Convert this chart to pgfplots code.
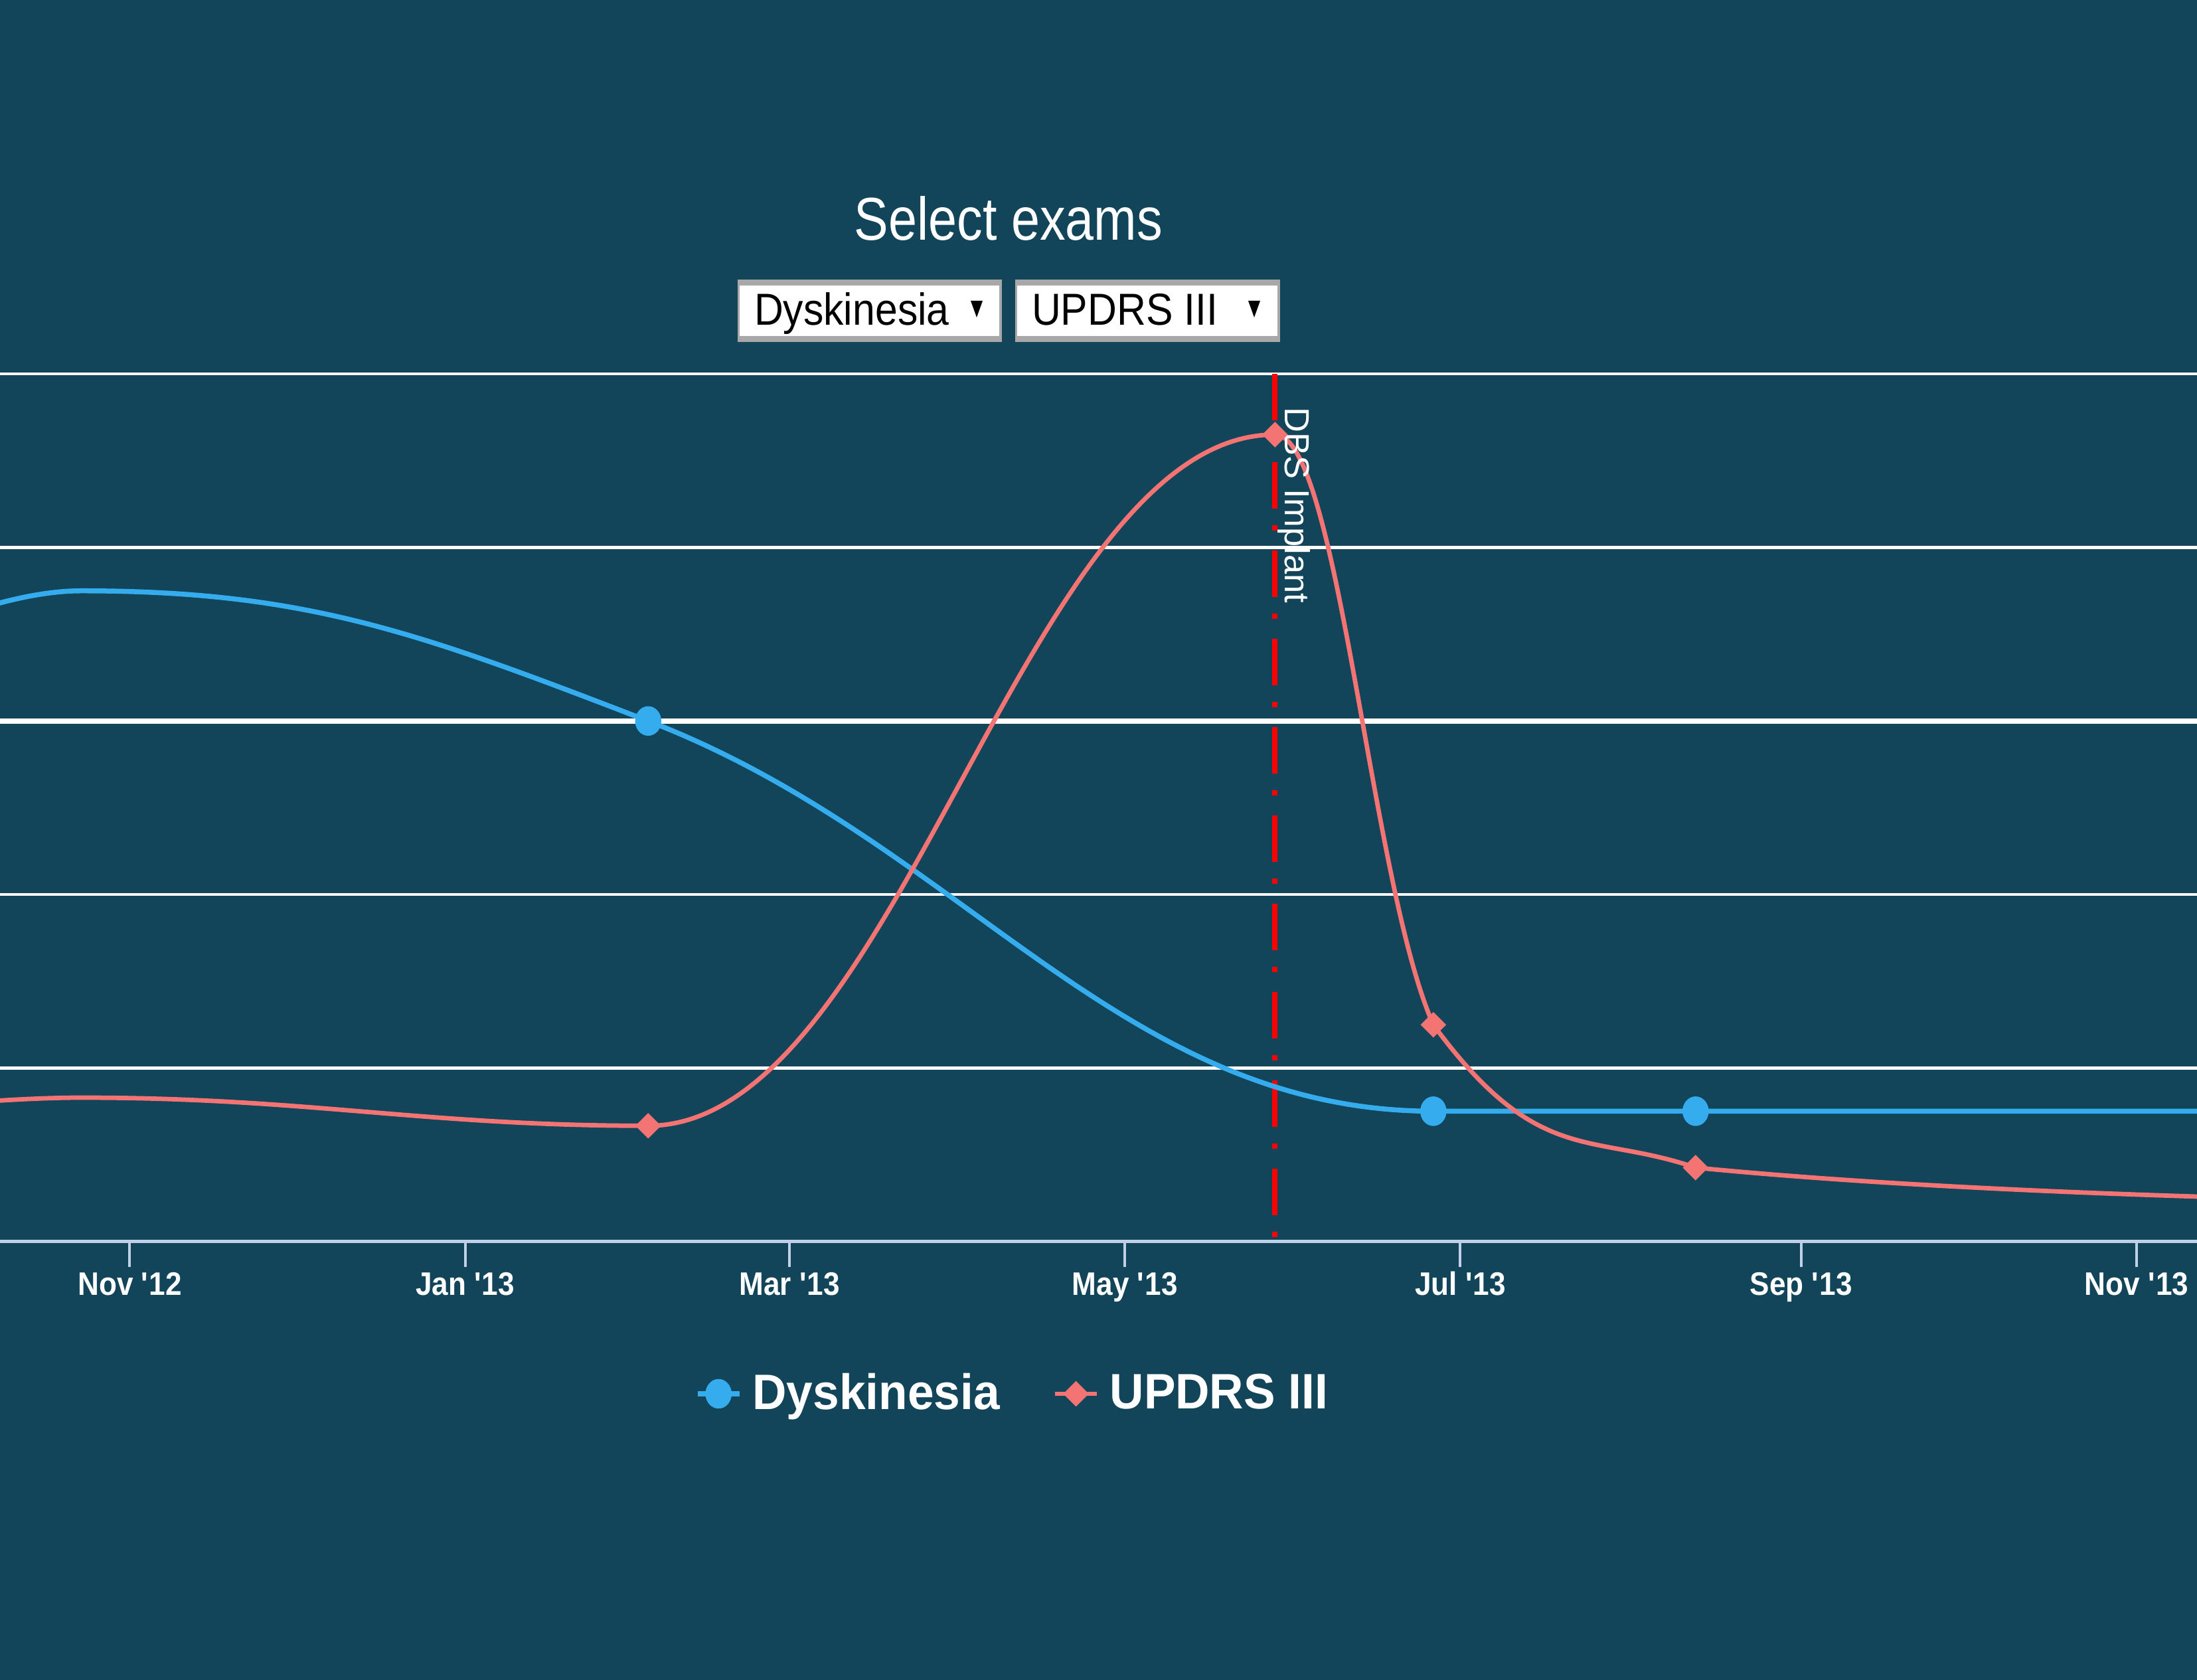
\documentclass[border=0pt]{standalone}
\usepackage{fontspec}
\setmainfont{Liberation Sans}
\newfontfamily\titlefont{Liberation Sans}[FakeStretch=0.85]
\newfontfamily\boxfont{Liberation Sans}[FakeStretch=0.9]
\newfontfamily\tickfont{Liberation Sans Bold}[FakeStretch=0.9]
\newfontfamily\legfont{Liberation Sans Bold}[FakeStretch=0.95]
\usepackage{pgfplots}
\pgfplotsset{compat=1.18}

\definecolor{bg}{RGB}{18,69,90}
\definecolor{dysk}{RGB}{53,172,238}
\definecolor{updrs}{RGB}{244,115,115}
\definecolor{axisc}{RGB}{192,208,230}
\definecolor{boxgray}{RGB}{168,168,168}

% Highcharts-like spline plot handler
\makeatletter
\def\pgfplothandlerhcspline{%
  \def\pgf@plotstreamstart{%
    \global\let\pgf@plotstreampoint=\hc@point@first
    \global\let\pgf@plotstreamspecial=\@gobble
    \global\let\pgf@plotstreamend=\hc@finish
  }%
}
\def\hc@point@first#1{%
  \pgf@process{#1}%
  \xdef\hc@px{\pgf@sys@tonumber\pgf@x}%
  \xdef\hc@py{\pgf@sys@tonumber\pgf@y}%
  \pgf@plot@first@action{\pgfqpoint{\hc@px pt}{\hc@py pt}}%
  \gdef\hc@havelast{0}%
  \global\let\pgf@plotstreampoint=\hc@point@next
}
\def\hc@point@next#1{%
  \pgf@process{#1}%
  \xdef\hc@nx{\pgf@sys@tonumber\pgf@x}%
  \xdef\hc@ny{\pgf@sys@tonumber\pgf@y}%
  \ifnum\hc@havelast=1
    \hc@compute
    \pgfpathcurveto{\pgfqpoint{\hc@lrx pt}{\hc@lry pt}}{\pgfqpoint{\hc@plx pt}{\hc@ply pt}}{\pgfqpoint{\hc@px pt}{\hc@py pt}}%
    \xdef\hc@lrx{\hc@prx}\xdef\hc@lry{\hc@pry}%
  \else
    \xdef\hc@lrx{\hc@px}\xdef\hc@lry{\hc@py}%
  \fi
  \xdef\hc@lx{\hc@px}\xdef\hc@ly{\hc@py}%
  \xdef\hc@px{\hc@nx}\xdef\hc@py{\hc@ny}%
  \gdef\hc@havelast{1}%
}
\def\hc@finish{%
  \ifnum\hc@havelast=1
    \pgfpathcurveto{\pgfqpoint{\hc@lrx pt}{\hc@lry pt}}{\pgfqpoint{\hc@px pt}{\hc@py pt}}{\pgfqpoint{\hc@px pt}{\hc@py pt}}%
  \fi
}
\def\hc@compute{%
  \pgfmathsetmacro\hc@a{(1.5*(\hc@px)+(\hc@lx))/2.5}%
  \pgfmathsetmacro\hc@b{(1.5*(\hc@py)+(\hc@ly))/2.5}%
  \pgfmathsetmacro\hc@c{(1.5*(\hc@px)+(\hc@nx))/2.5}%
  \pgfmathsetmacro\hc@d{(1.5*(\hc@py)+(\hc@ny))/2.5}%
  \pgfmathsetmacro\hc@k{((\hc@d)-(\hc@b))/((\hc@c)-(\hc@a))}%
  \pgfmathsetmacro\hc@corr{(\hc@k)*((\hc@c)-(\hc@px))+(\hc@py)-(\hc@d)}%
  \pgfmathsetmacro\hc@b{(\hc@b)+(\hc@corr)}%
  \pgfmathsetmacro\hc@d{(\hc@d)+(\hc@corr)}%
  \pgfmathsetmacro\hc@t{and((\hc@b)>(\hc@ly),(\hc@b)>(\hc@py))}%
  \ifdim\hc@t pt>0.5pt
    \pgfmathsetmacro\hc@b{max(\hc@ly,\hc@py)}%
    \pgfmathsetmacro\hc@d{2*(\hc@py)-(\hc@b)}%
  \else
    \pgfmathsetmacro\hc@t{and((\hc@b)<(\hc@ly),(\hc@b)<(\hc@py))}%
    \ifdim\hc@t pt>0.5pt
      \pgfmathsetmacro\hc@b{min(\hc@ly,\hc@py)}%
      \pgfmathsetmacro\hc@d{2*(\hc@py)-(\hc@b)}%
    \fi
  \fi
  \pgfmathsetmacro\hc@t{and((\hc@d)>(\hc@ny),(\hc@d)>(\hc@py))}%
  \ifdim\hc@t pt>0.5pt
    \pgfmathsetmacro\hc@d{max(\hc@ny,\hc@py)}%
    \pgfmathsetmacro\hc@b{2*(\hc@py)-(\hc@d)}%
  \else
    \pgfmathsetmacro\hc@t{and((\hc@d)<(\hc@ny),(\hc@d)<(\hc@py))}%
    \ifdim\hc@t pt>0.5pt
      \pgfmathsetmacro\hc@d{min(\hc@ny,\hc@py)}%
      \pgfmathsetmacro\hc@b{2*(\hc@py)-(\hc@d)}%
    \fi
  \fi
  \xdef\hc@plx{\hc@a}\xdef\hc@ply{\hc@b}%
  \xdef\hc@prx{\hc@c}\xdef\hc@pry{\hc@d}%
}
\tikzset{hc spline/.code={\let\tikz@plot@handler=\pgfplothandlerhcspline}}
\makeatother

\begin{document}
\begin{tikzpicture}[x=1pt,y=1pt]
\fill[bg] (0,0) rectangle (661.8,506);
% title and selectors
\node[anchor=base, text=white, inner sep=0pt, font=\titlefont\fontsize{18.2}{20}\selectfont] at (303.8,433.7) {Select exams};
\fill[boxgray] (222.1,403) rectangle (301.8,421.7);
\fill[white] (222.7,404.7) rectangle (301.0,420.0);
\node[anchor=base west, inner sep=0pt, text=black, font=\boxfont\fontsize{13.5}{15}\selectfont] at (227,408) {Dyskinesia};
\fill[black] (292.4,415.4) -- (296,415.4) -- (294.2,410.4) -- cycle;
\fill[boxgray] (305.8,403) rectangle (385.5,421.7);
\fill[white] (306.4,404.7) rectangle (384.7,420.0);
\node[anchor=base west, inner sep=0pt, text=black, font=\boxfont\fontsize{13.5}{15}\selectfont] at (310.6,408) {UPDRS III};
\fill[black] (376,415.4) -- (379.6,415.4) -- (377.8,410.4) -- cycle;

\begin{axis}[
  at={(0pt,132pt)}, anchor=south west,
  scale only axis, width=661.8pt, height=261.4pt,
  xmin=-23.6, xmax=376.0, ymin=0, ymax=5,
  axis x line*=bottom, axis y line*=left,
  x axis line style={axisc, line width=1pt, -},
  y axis line style={draw=none},
  xtick={0,61,120,181,242,304,365},
  xticklabels={Nov \textquotesingle12, Jan \textquotesingle13, Mar \textquotesingle13, May \textquotesingle13, Jul \textquotesingle13, Sep \textquotesingle13, Nov \textquotesingle13},
  tick align=outside,
  major tick length=7.6pt,
  xtick style={axisc, line width=0.8pt},
  xticklabel style={font=\tickfont\fontsize{9.8}{11}\selectfont, text=white, anchor=base, yshift=-8.6pt},
  ytick={0,1,2,3,4,5},
  yticklabels={},
  ytick style={draw=none},
  ymajorgrids,
  grid style={white, line width=0.88pt},
  extra y ticks={3},
  extra y tick labels={},
  extra y tick style={grid style={white, line width=1.5pt}, tick style={draw=none}},
  legend columns=2,
  legend cell align=left,
  legend style={at={(axis description cs:0.3164,-0.1752)}, anchor=west,
    draw=none, fill=none, inner sep=0pt, outer sep=0pt,
    font=\legfont\fontsize{15}{17}\selectfont, text=white,
    /tikz/every odd column/.append style={column sep=1.2pt},
    /tikz/every even column/.append style={column sep=14pt}},
  legend image code/.code={%
    \draw[#1, mark=none] (0pt,0pt) -- (12.6pt,0pt);
    \draw[#1, only marks, mark indices={1}] plot coordinates {(6.3pt,0pt)};},
]
% DBS implant marker line
\addplot[red, line width=1.6pt, dash pattern=on 14pt off 5pt on 1.6pt off 6pt, forget plot] coordinates {(208.3,5) (208.3,0)};
% Dyskinesia
\addplot[dysk, line width=1.5pt, hc spline, mark=*, mark indices={2,3,4,5}, mark size=3.7pt,
  mark options={draw=none, fill=dysk, xscale=0.865}]
  coordinates {(-70,3.0) (-8.8,3.75) (94.3,3.0) (237.1,0.752) (284.8,0.752) (450,0.752)};
\addlegendentry{Dyskinesia}
% UPDRS III
\addplot[updrs, line width=1.35pt, hc spline, mark=diamond*, mark indices={2,3,4,5,6}, mark size=2.9pt,
  mark options={draw=none, fill=updrs, xscale=1.33}]
  coordinates {(-70,0.65) (-8.8,0.83) (94.3,0.668) (208.3,4.65) (237.1,1.25) (284.8,0.427) (450,0.22)};
\addlegendentry{UPDRS III}
\node[rotate=-90, anchor=base west, inner sep=0pt, text=white, font=\fontsize{10.5}{12}\selectfont] at (axis cs:210.1,4.809) {DBS Implant};
\end{axis}
\pgfresetboundingbox
\path[use as bounding box] (0,0) rectangle (661.8,506);
\end{tikzpicture}
\end{document}
